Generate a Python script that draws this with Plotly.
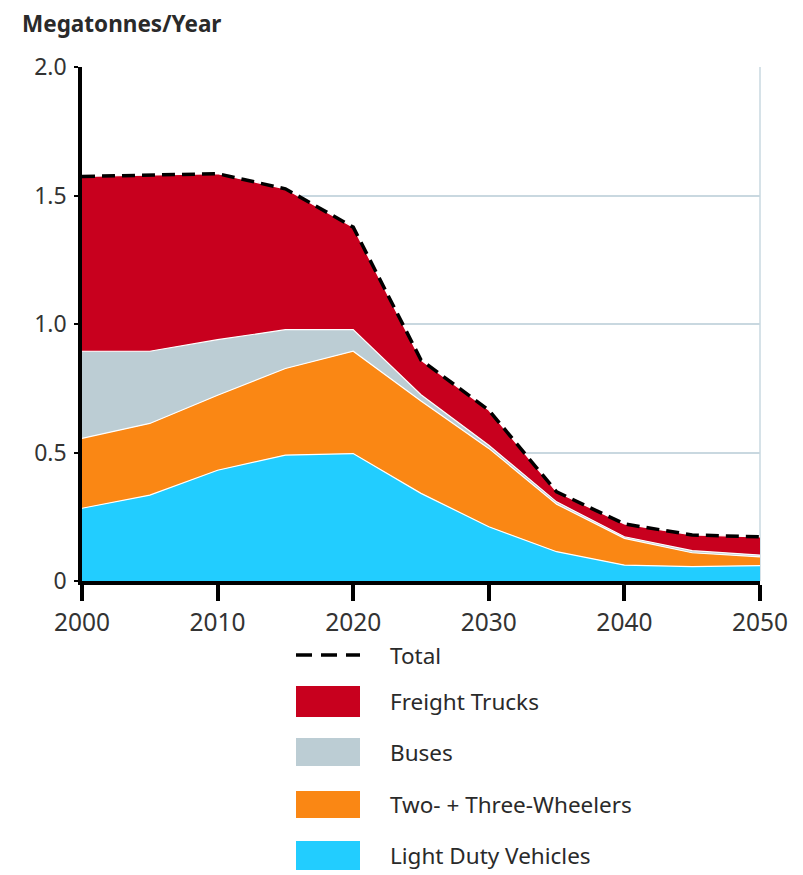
import plotly.graph_objects as go

# data (megatonnes per year, stacked layers)
years = [2000, 2005, 2010, 2015, 2020, 2025, 2030, 2035, 2040, 2045, 2050]
light_duty = [0.283, 0.334, 0.431, 0.490, 0.496, 0.341, 0.211, 0.114, 0.062, 0.056, 0.060]
two_three_wheelers = [0.272, 0.279, 0.292, 0.337, 0.398, 0.359, 0.305, 0.185, 0.104, 0.054, 0.034]
buses = [0.339, 0.281, 0.216, 0.151, 0.084, 0.025, 0.012, 0.009, 0.006, 0.008, 0.007]
freight_trucks = [0.680, 0.686, 0.646, 0.548, 0.399, 0.135, 0.137, 0.039, 0.050, 0.061, 0.071]
total = [round(a + b + c + d, 3) for a, b, c, d in zip(light_duty, two_three_wheelers, buses, freight_trucks)]

y_ticks = [0, 0.5, 1.0, 1.5, 2.0]
y_tick_labels = ["0", "0.5", "1.0", "1.5", "2.0"]
x_ticks = [2000, 2010, 2020, 2030, 2040, 2050]

series = [
    ("Light Duty Vehicles", light_duty, "#22CDFF"),
    ("Two- + Three-Wheelers", two_three_wheelers, "#FA8714"),
    ("Buses", buses, "#BCCDD4"),
    ("Freight Trucks", freight_trucks, "#C8001E"),
]

W, H = 803, 875
OFF = 8  # page body margin pushes the figure 8px right/down
L, R, T, B = 82, 760, 67, 581  # plot area in screen pixels
FONT = "Noto Sans"
TXT = "#2a2a2a"

fig = go.Figure()
for name, vals, col in series:
    fig.add_trace(go.Scatter(
        x=years, y=vals, name=name, mode="lines", stackgroup="one",
        line=dict(color="white", width=1.2), fillcolor=col, showlegend=False,
    ))
fig.add_trace(go.Scatter(
    x=years, y=total, name="Total", mode="lines",
    line=dict(color="black", width=3.5, dash="13px,7px"), showlegend=False,
))


def px_x(px):
    return (px - L) / (R - L)


def px_y(py):
    return (B - py) / (B - T)


# hand-made legend below the plot
shapes = [dict(type="line", xref="paper", yref="paper",
               x0=px_x(296), x1=px_x(360), y0=px_y(655), y1=px_y(655),
               line=dict(color="black", width=3.5, dash="16px,9px"))]
annotations = [dict(text="Total", xref="paper", yref="paper", x=px_x(388), y=px_y(655),
                    xanchor="left", yanchor="middle", showarrow=False,
                    font=dict(size=22.5, color=TXT, family=FONT))]
legend_rows = [
    ("Freight Trucks", "#C8001E", 686, 717),
    ("Buses", "#BCCDD4", 738, 766),
    ("Two- + Three-Wheelers", "#FA8714", 791, 818),
    ("Light Duty Vehicles", "#22CDFF", 841, 870),
]
for label, col, top, bot in legend_rows:
    shapes.append(dict(type="rect", xref="paper", yref="paper",
                       x0=px_x(296), x1=px_x(360), y0=px_y(bot), y1=px_y(top),
                       fillcolor=col, line=dict(width=0)))
    annotations.append(dict(text=label, xref="paper", yref="paper", x=px_x(388),
                            y=px_y((top + bot) / 2), xanchor="left", yanchor="middle",
                            showarrow=False, font=dict(size=22.5, color=TXT, family=FONT)))

annotations.append(dict(text="<b>Megatonnes/Year</b>", xref="paper", yref="paper",
                        x=px_x(21), y=px_y(23), xanchor="left", yanchor="middle",
                        showarrow=False, borderpad=0,
                        font=dict(size=22.5, color=TXT, family=FONT)))

# light border on the right edge
shapes.append(dict(type="line", xref="paper", yref="paper", x0=1, x1=1, y0=0, y1=1,
                   line=dict(color="#C9D8E0", width=1.5), layer="below"))

fig.update_layout(
    width=W - OFF, height=H - OFF,
    margin=dict(l=L - OFF, r=W - R, t=T - OFF, b=H - B),
    paper_bgcolor="white", plot_bgcolor="white",
    font=dict(family=FONT, size=24, color="#333"),
    shapes=shapes, annotations=annotations,
    xaxis=dict(range=[2000, 2050], tickvals=x_ticks, showgrid=False,
               showline=True, linecolor="black", linewidth=3.5,
               ticks="outside", ticklen=16, tickwidth=3.5, tickcolor="black",
               zeroline=False, ticklabelstandoff=1,
               tickfont=dict(size=24.5)),
    yaxis=dict(range=[0, 2.0], tickvals=y_ticks, ticktext=y_tick_labels,
               showgrid=True, gridcolor="#C9D8E0", gridwidth=1.5,
               showline=True, linecolor="black", linewidth=3.5,
               ticks="outside", ticklen=4, tickwidth=2, tickcolor="black",
               zeroline=False, ticklabelstandoff=3, tickfont=dict(size=23)),
)

fig.write_html("out.html")
